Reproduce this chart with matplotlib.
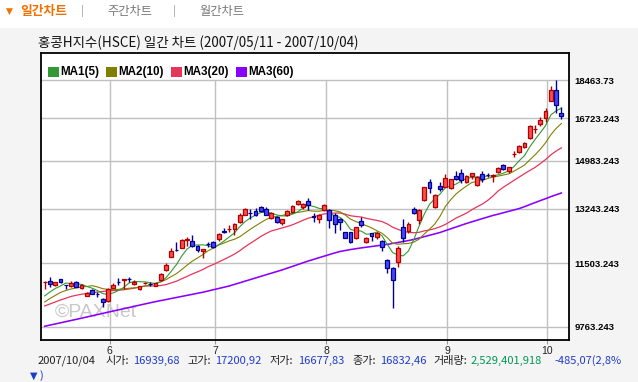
import matplotlib
matplotlib.use("Agg")
import matplotlib.pyplot as plt
import numpy as np
from matplotlib.patches import Rectangle
from matplotlib.ticker import NullLocator, NullFormatter

plt.rcParams["font.family"] = ["Noto Sans CJK KR", "DejaVu Sans"]

# 일봉 OHLC (2007/05 ~ 2007/10/04)
opens = [10965, 10991, 10870, 11039, 10882, 10850, 10963, 10803, 10583, 10739,
         10625, 10501, 10446, 10803, 10975, 11030, 11045, 10907, 10758, 10940,
         10910, 10859, 11011, 11307, 11703, 11912, 11978, 12230, 12177, 12030,
         11867, 12100, 12156, 12260, 12490, 12570, 12560, 12809, 13043, 13115,
         13177, 13315, 13235, 12919, 12976, 12757, 13022, 13144, 13398, 13287,
         13512, 12985, 12888, 13201, 13201, 13032, 12888, 12464, 12464, 12272,
         12832, 12146, 12432, 12323, 12187, 11603, 11362, 11535, 12624, 12515,
         13235, 12865, 13546, 14191, 13315, 14046, 14020, 13962, 14413, 14514,
         14180, 14413, 14071, 14477, 14455, 14425, 14562, 14828, 14611, 15260,
         15322, 15533, 15885, 16250, 16470, 16753, 17504, 17993, 16939.68]
highs = [10977, 11114, 10971, 11056, 10885, 10982, 10982, 10907, 10684, 10753,
         10684, 10528, 10787, 10926, 11068, 11047, 11114, 11019, 10859, 10963,
         10971, 10935, 11229, 11523, 11959, 12165, 12240, 12303, 12376, 12061,
         11937, 12165, 12196, 12432, 12593, 12700, 12776, 13090, 13270, 13225,
         13260, 13339, 13293, 13134, 12999, 12909, 13201, 13384, 13546, 13432,
         13606, 13090, 13056, 13398, 13225, 13090, 12922, 12470, 12483, 12645,
         12956, 12304, 12451, 12483, 12218, 11624, 11383, 12030, 12899, 12809,
         13315, 13225, 14020, 14290, 13758, 14180, 14488, 14312, 14600, 14664,
         14449, 14536, 14413, 14600, 14514, 14477, 14765, 14866, 14765, 15373,
         15612, 15746, 16439, 16439, 16797, 17163, 18196, 18463.73, 17200.92]
lows = [10758, 10814, 10850, 10926, 10758, 10831, 10814, 10758, 10561, 10621,
        10539, 10270, 10420, 10794, 10878, 10758, 10971, 10878, 10739, 10907,
        10850, 10850, 10991, 11287, 11694, 11885, 11959, 12040, 12009, 11854,
        11655, 12009, 11959, 12196, 12432, 12464, 12376, 12776, 13022, 12888,
        12999, 13124, 13022, 12888, 12767, 12700, 12999, 13110, 13372, 13235,
        13201, 12809, 12776, 13177, 12591, 12432, 12537, 12265, 12115, 12250,
        12645, 12115, 12196, 12250, 11885, 11229, 10243, 11405, 12165, 12451,
        13056, 12734, 13522, 13804, 13260, 13875, 13998, 13936, 14264, 14144,
        14144, 14290, 14046, 14202, 14365, 14202, 14536, 14637, 14514, 15149,
        15282, 15481, 15856, 16092, 16409, 16581, 17490, 16945, 16677.83]
closes = [10972, 10898, 10954, 10963, 10875, 10926, 10831, 10878, 10665, 10638,
          10615, 10404, 10758, 10878, 10968, 11039, 11036, 10971, 10842, 10945,
          10905, 10926, 11192, 11454, 11861, 11900, 12218, 12240, 12040, 11906,
          11928, 12093, 12009, 12409, 12480, 12580, 12724, 13032, 13235, 13105,
          13043, 13177, 13043, 13110, 12790, 12888, 13167, 13349, 13512, 13408,
          13372, 12975, 13032, 13372, 12855, 12724, 12790, 12272, 12146, 12624,
          12691, 12272, 12336, 12432, 11990, 11357, 11019, 11978, 12290, 12734,
          13090, 13201, 13996, 13962, 13712, 13925, 14327, 14290, 14312, 14264,
          14413, 14514, 14387, 14312, 14445, 14435, 14702, 14687, 14740, 15270,
          15561, 15694, 16398, 16258, 16653, 17045, 17993, 17317.53, 16832.46]

# 이동평균선
ma5 = [10575, 10684, 10780, 10850, 10932, 10923, 10910, 10895, 10835, 10788,
       10725, 10640, 10616, 10659, 10725, 10809, 10936, 10978, 10971, 10967,
       10940, 10918, 10962, 11084, 11268, 11467, 11725, 11935, 12052, 12061,
       12066, 12041, 11995, 12069, 12184, 12314, 12440, 12645, 12810, 12935,
       13028, 13118, 13121, 13096, 13033, 13002, 13000, 13061, 13141, 13265,
       13362, 13323, 13260, 13232, 13121, 12992, 12955, 12803, 12557, 12511,
       12505, 12401, 12414, 12471, 12344, 12077, 11827, 11755, 11727, 11876,
       12222, 12659, 13062, 13397, 13592, 13759, 13984, 14043, 14113, 14224,
       14321, 14359, 14378, 14378, 14414, 14419, 14456, 14516, 14602, 14767,
       14992, 15190, 15533, 15836, 16113, 16410, 16869, 17053, 17168]
ma10 = [10412, 10506, 10588, 10671, 10725, 10767, 10794, 10822, 10836, 10860,
        10824, 10775, 10755, 10747, 10756, 10767, 10788, 10797, 10815, 10846,
        10875, 10927, 10970, 11028, 11117, 11203, 11321, 11448, 11568, 11664,
        11767, 11883, 11965, 12060, 12122, 12190, 12241, 12320, 12440, 12560,
        12671, 12779, 12883, 12953, 12984, 13015, 13059, 13091, 13118, 13149,
        13182, 13161, 13160, 13187, 13193, 13177, 13139, 13031, 12895, 12816,
        12748, 12678, 12608, 12514, 12428, 12291, 12114, 12085, 12099, 12110,
        12150, 12243, 12409, 12562, 12734, 12991, 13322, 13553, 13755, 13908,
        14040, 14172, 14211, 14246, 14319, 14370, 14407, 14447, 14490, 14591,
        14705, 14823, 15024, 15219, 15440, 15701, 16030, 16293, 16502]
ma20 = [10305, 10358, 10412, 10465, 10512, 10561, 10593, 10621, 10643, 10665,
        10684, 10698, 10712, 10723, 10731, 10745, 10765, 10790, 10820, 10853,
        10850, 10851, 10863, 10888, 10937, 10985, 11055, 11123, 11192, 11255,
        11321, 11405, 11468, 11544, 11620, 11697, 11781, 11884, 12004, 12112,
        12219, 12331, 12424, 12507, 12553, 12603, 12650, 12706, 12779, 12855,
        12927, 12970, 13022, 13070, 13089, 13096, 13099, 13061, 13007, 12983,
        12965, 12920, 12884, 12851, 12811, 12734, 12627, 12558, 12497, 12463,
        12449, 12461, 12509, 12538, 12581, 12641, 12718, 12819, 12927, 13009,
        13095, 13208, 13310, 13404, 13527, 13681, 13865, 14000, 14123, 14250,
        14373, 14498, 14618, 14733, 14880, 15036, 15219, 15370, 15496]
ma60 = [9779, 9808, 9837, 9866, 9896, 9925, 9955, 9985, 10016, 10047,
        10078, 10109, 10140, 10171, 10202, 10233, 10264, 10296, 10327, 10358,
        10390, 10419, 10448, 10476, 10505, 10533, 10562, 10590, 10619, 10648,
        10676, 10711, 10746, 10780, 10815, 10850, 10895, 10940, 10986, 11031,
        11077, 11123, 11169, 11215, 11261, 11307, 11360, 11413, 11466, 11520,
        11573, 11621, 11670, 11718, 11767, 11815, 11860, 11890, 11920, 11945,
        11970, 11992, 12014, 12036, 12058, 12080, 12110, 12140, 12170, 12200,
        12234, 12279, 12323, 12368, 12412, 12457, 12516, 12574, 12633, 12691,
        12750, 12803, 12856, 12910, 12963, 13016, 13060, 13108, 13155, 13202,
        13250, 13315, 13385, 13455, 13525, 13591, 13664, 13729, 13794]

month_labels = ["6", "7", "8", "9", "10"]
month_first = [13, 33, 54, 77, 96]  # 각 월 첫 봉 인덱스
price_ticks = [9763.243, 11503.243, 13243.243, 14983.243, 16723.243, 18463.73]
price_labels = ["9763.243", "11503.243", "13243.243", "14983.243", "16723.243", "18463.73"]

ma_names = ["MA1(5)", "MA2(10)", "MA3(20)", "MA3(60)"]
ma_colors = ["#339933", "#808000", "#e8345a", "#8a00ff"]

title = "홍콩H지수(HSCE) 일간 차트 (2007/05/11 - 2007/10/04)"
info_date = "2007/10/04"
info_items = [("시가:", "16939,68"), ("고가:", "17200,92"), ("저가:", "16677,83"),
              ("종가:", "16832,46")]
info_volume = ("거래량:", "2,529,401,918")
info_change = "-485,07(2,8%"

W, H = 638, 382


def fx(px):
    return px / W


def fy(py):
    return 1 - py / H


fig = plt.figure(figsize=(W / 100, H / 100), dpi=100, facecolor="#f4f4f4")

# 상단 탭 영역
fig.add_artist(Rectangle((0, fy(27.5)), 1, 27.5 / H, transform=fig.transFigure,
                         facecolor="white", edgecolor="none", zorder=0))
fig.text(fx(5.5), fy(11), "▼", fontsize=6.5, color="#f07000", va="center",
         family=["DejaVu Sans"])
fig.text(fx(20.5), fy(11), "일간차트", fontsize=9.2, color="#f07000", va="center",
         fontweight="bold")
fig.text(fx(81), fy(11), "|", fontsize=8, color="#a0a0a0", va="center")
fig.text(fx(107), fy(11), "주간차트", fontsize=8.8, color="#777777", va="center")
fig.text(fx(173), fy(11), "|", fontsize=8, color="#a0a0a0", va="center")
fig.text(fx(199), fy(11), "월간차트", fontsize=8.8, color="#777777", va="center")

fig.text(fx(38), fy(43), title, fontsize=9.7, color="#111111", va="center")

# 차트 영역
left, right, top, bottom = 41, 569, 53, 340
ax = fig.add_axes([fx(left), fy(bottom), (right - left) / W, (bottom - top) / H])
ax.set_facecolor("white")
ax.set_yscale("log")
ax.set_ylim(9438, 19797)
ax.set_xlim(-0.70, 99.45)
for s in ax.spines.values():
    s.set_color("black")
    s.set_linewidth(1.3)

grid_c = "#c0c0c0"
month_x = [m - 0.65 for m in month_first]
ax.vlines(month_x, 9438, price_ticks[-1], color=grid_c, lw=1, zorder=0)
for p in price_ticks:
    ax.axhline(p, color=grid_c, lw=1, zorder=0)

x = np.arange(len(closes))
o = np.array(opens)
c = np.array(closes)
up = c >= o

# 이동평균선
for vals, col, lw in zip([ma60, ma20, ma10, ma5], ma_colors[::-1], [1.15, 0.9, 0.8, 0.8]):
    ax.plot(x, vals, color=col, lw=lw, zorder=2)

# 캔들
up_fill, up_edge = "#ff4d4d", "#b00000"
dn_fill, dn_edge = "#4545ff", "#00008c"
wick_colors = [up_edge if u else dn_edge for u in up]
ax.vlines(x, lows, highs, colors=wick_colors, lw=1, zorder=3)
body_bottom = np.minimum(o, c)
body_h = np.abs(c - o)
ax.bar(x, body_h, bottom=body_bottom, width=0.72,
       color=[up_fill if u else dn_fill for u in up],
       edgecolor=wick_colors, linewidth=0.9, zorder=4)

ax.text((55 - left) / (right - left), (bottom - 312) / (bottom - top), "©PAXNet",
        transform=ax.transAxes, fontsize=14, color="#c8c8c8", va="center",
        family=["Liberation Sans"], zorder=1)

# 축 눈금
ax.yaxis.tick_right()
ax.set_yticks(price_ticks)
ax.set_yticklabels(price_labels)
ax.yaxis.set_minor_locator(NullLocator())
ax.yaxis.set_minor_formatter(NullFormatter())
ax.tick_params(axis="y", length=0, pad=4, labelsize=6.8)
for t in ax.get_yticklabels():
    t.set_family(["Liberation Sans"])
    t.set_fontweight("bold")

ax.set_xticks(month_x)
ax.set_xticklabels(month_labels)
ax.tick_params(axis="x", length=3, color="#999999", pad=1.5, labelsize=7.5)
for t in ax.get_xticklabels():
    t.set_family(["Liberation Sans"])
    t.set_color("#222222")

# 범례
legend_x = [48.3, 106, 171, 236]
for lx, name, col in zip(legend_x, ma_names, ma_colors):
    fig.add_artist(Rectangle((fx(lx), fy(76.7)), 10.7 / W, 10 / H,
                             transform=fig.transFigure, facecolor=col,
                             edgecolor="none", zorder=5))
    fig.text(fx(lx + 12.3), fy(72), name, fontsize=8.4, fontweight="bold",
             color="black", va="center", family=["Liberation Sans"], zorder=5)

# 하단 정보
blue, green, dark = "#1e3cc8", "#00955a", "#222222"
info_fs = 8
fig.text(fx(37.5), fy(361), info_date, fontsize=info_fs, color=dark, va="center")
label_x = [105, 187, 270, 352]
value_x = [133, 215, 298, 380]
for lx, vx, (lab, val) in zip(label_x, value_x, info_items):
    fig.text(fx(lx), fy(361), lab, fontsize=info_fs, color=dark, va="center")
    fig.text(fx(vx), fy(361), val, fontsize=info_fs, color=blue, va="center")
fig.text(fx(433), fy(361), info_volume[0], fontsize=info_fs, color=dark, va="center")
fig.text(fx(471), fy(361), info_volume[1], fontsize=info_fs, color=green, va="center")
fig.text(fx(554), fy(361), info_change, fontsize=info_fs, color=blue, va="center")
fig.text(fx(30), fy(376), "▼", fontsize=7, color=blue, va="center",
         family=["DejaVu Sans"])
fig.text(fx(40), fy(376), ")", fontsize=info_fs, color=blue, va="center")

fig.savefig("out.png", dpi=100, facecolor=fig.get_facecolor())
plt.close(fig)
